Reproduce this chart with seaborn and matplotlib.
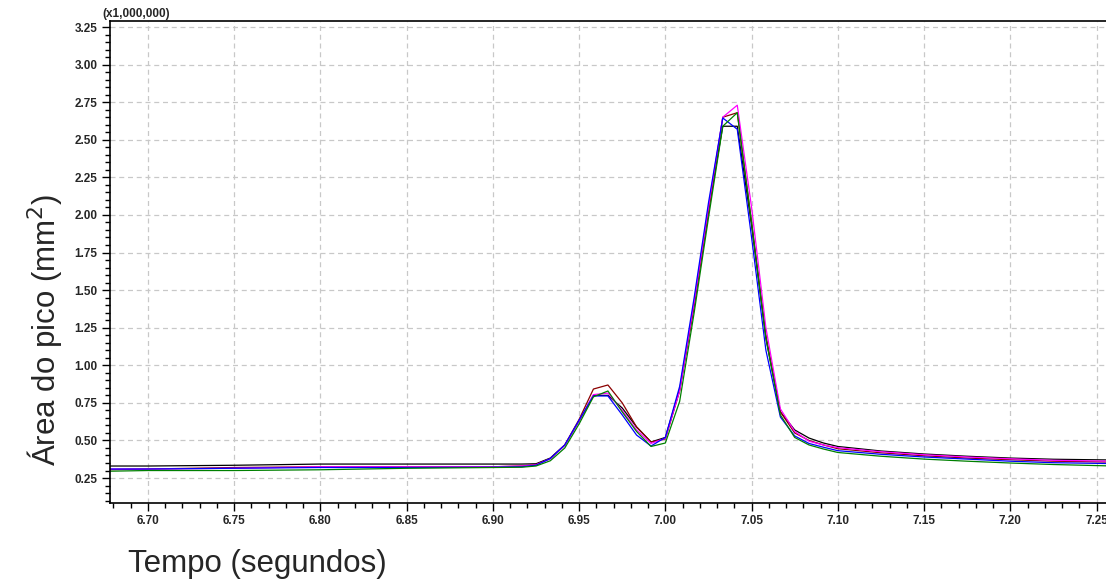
import numpy as np
import pandas as pd
import matplotlib
matplotlib.use("Agg")
import matplotlib.pyplot as plt
from matplotlib.ticker import MultipleLocator, FormatStrFormatter
from matplotlib import font_manager
import seaborn as sns

# Sample times (s)
tempo = [6.675, 6.70, 6.75, 6.80, 6.85, 6.90, 6.9167, 6.925, 6.9333, 6.9417,
         6.95, 6.9583, 6.9667, 6.975, 6.9833, 6.9917, 7.0, 7.0083, 7.0167,
         7.025, 7.0333, 7.0417, 7.05, 7.0583, 7.0667, 7.075, 7.0833, 7.0917,
         7.10, 7.125, 7.15, 7.175, 7.20, 7.225, 7.26]

# Peak area signal of each run (x1,000,000)
run_preto = [0.330, 0.330, 0.335, 0.343, 0.343, 0.343, 0.343, 0.345, 0.383, 0.470,
             0.630, 0.800, 0.800, 0.716, 0.590, 0.490, 0.520, 0.840, 1.400,
             2.030, 2.590, 2.590, 1.930, 1.180, 0.690, 0.570, 0.516, 0.483,
             0.460, 0.430, 0.410, 0.395, 0.383, 0.375, 0.370]
run_vinho = [0.305, 0.310, 0.320, 0.325, 0.325, 0.325, 0.330, 0.340, 0.380, 0.470,
             0.640, 0.842, 0.869, 0.750, 0.590, 0.490, 0.510, 0.830, 1.400,
             2.020, 2.650, 2.680, 1.950, 1.200, 0.690, 0.550, 0.500, 0.470,
             0.445, 0.418, 0.398, 0.383, 0.372, 0.362, 0.356]
run_magenta = [0.310, 0.310, 0.315, 0.325, 0.325, 0.325, 0.330, 0.338, 0.378, 0.468,
               0.630, 0.805, 0.815, 0.700, 0.570, 0.480, 0.515, 0.830, 1.420,
               2.050, 2.650, 2.730, 2.050, 1.250, 0.710, 0.560, 0.495, 0.470,
               0.452, 0.425, 0.405, 0.390, 0.378, 0.368, 0.362]
run_azul = [0.310, 0.310, 0.315, 0.320, 0.320, 0.322, 0.325, 0.335, 0.380, 0.470,
            0.635, 0.796, 0.796, 0.670, 0.536, 0.463, 0.520, 0.860, 1.450,
            2.080, 2.645, 2.570, 1.850, 1.100, 0.656, 0.530, 0.480, 0.455,
            0.432, 0.408, 0.390, 0.376, 0.362, 0.352, 0.346]
run_verde = [0.295, 0.300, 0.300, 0.305, 0.315, 0.320, 0.322, 0.330, 0.365, 0.450,
             0.610, 0.790, 0.829, 0.690, 0.560, 0.460, 0.483, 0.760, 1.350,
             1.980, 2.590, 2.680, 1.950, 1.180, 0.670, 0.520, 0.470, 0.443,
             0.420, 0.395, 0.376, 0.362, 0.350, 0.340, 0.330]

corridas = ["preto", "vinho", "magenta", "azul", "verde"]
cores = ["#000000", "#8b0000", "#ff00ff", "#0000ff", "#008000"]

sinais = [run_preto, run_vinho, run_magenta, run_azul, run_verde]
df = pd.concat(
    [pd.DataFrame({"tempo": tempo, "area": s, "corrida": c}) for c, s in zip(corridas, sinais)],
    ignore_index=True,
)

sns.set_style("ticks")
plt.rcParams["font.family"] = ["Liberation Sans", "DejaVu Sans"]

# Compact bold face for the tick labels
narrow = font_manager.FontProperties(family=["Liberation Sans", "DejaVu Sans"],
                                     weight="bold", size=8.5)

fig = plt.figure(figsize=(11.06, 5.79), dpi=100)
ax = fig.add_axes([110 / 1106, 1 - 503 / 579, 1 - 110 / 1106, (503 - 21) / 579])

sns.lineplot(data=df, x="tempo", y="area", hue="corrida", hue_order=corridas,
             palette=cores, linewidth=0.9, legend=False, ax=ax, sort=False,
             estimator=None)

ax.set_xlim(6.678, 7.2555)
ax.set_ylim(0.084, 3.29)

ax.xaxis.set_major_locator(MultipleLocator(0.05))
ax.xaxis.set_minor_locator(MultipleLocator(0.01))
ax.yaxis.set_major_locator(MultipleLocator(0.25))
ax.yaxis.set_minor_locator(MultipleLocator(0.05))
ax.xaxis.set_major_formatter(FormatStrFormatter("%.2f"))
ax.yaxis.set_major_formatter(FormatStrFormatter("%.2f"))

for lab in ax.get_xticklabels() + ax.get_yticklabels():
    lab.set_fontproperties(narrow)

ax.tick_params(axis="both", which="major", length=6, width=1, color="black", pad=3)
ax.tick_params(axis="both", which="minor", length=3.5, width=1, color="black")

ax.grid(True, which="major", color="#c8c8c8", linestyle=(0, (4, 3)), linewidth=0.9)

for side in ["left", "bottom", "top"]:
    ax.spines[side].set_visible(True)
    ax.spines[side].set_color("black")
    ax.spines[side].set_linewidth(1.2)
ax.spines["right"].set_visible(False)

ax.set_xlabel("")
ax.set_ylabel("")

fig.text(102 / 1106, 1 - 14 / 579, "(x1,000,000)", ha="left", va="center",
         fontproperties=narrow)

fig.text(45 / 1106, 1 - 330 / 579, "Área do pico (mm$^2$)", rotation=90,
         ha="center", va="center", fontsize=22.5)
fig.text(128 / 1106, 1 - 564 / 579, "Tempo (segundos)", ha="left", va="center",
         fontsize=22.5)

fig.savefig("out.png", dpi=100)
